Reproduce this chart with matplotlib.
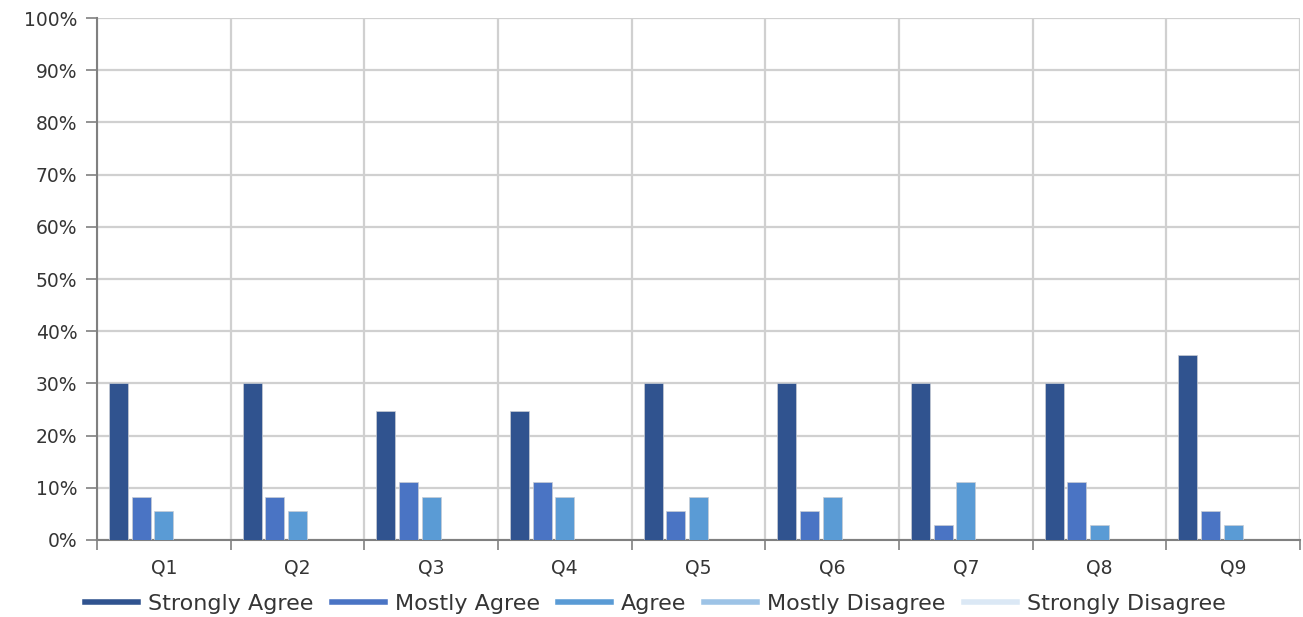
import numpy as np
import matplotlib.pyplot as plt
from matplotlib.lines import Line2D

plt.rcParams['font.family'] = ['DejaVu Sans']

questions = ['Q1', 'Q2', 'Q3', 'Q4', 'Q5', 'Q6', 'Q7', 'Q8', 'Q9']
series_names = ['Strongly Agree', 'Mostly Agree', 'Agree', 'Mostly Disagree', 'Strongly Disagree']
strongly_agree = [30.0, 30.0, 24.7, 24.7, 30.0, 30.0, 30.0, 30.0, 35.5]
mostly_agree = [8.3, 8.3, 11.1, 11.1, 5.6, 5.6, 2.8, 11.1, 5.6]
agree = [5.6, 5.6, 8.3, 8.3, 8.3, 8.3, 11.1, 2.8, 2.8]
mostly_disagree = [0, 0, 0, 0, 0, 0, 0, 0, 0]
strongly_disagree = [0, 0, 0, 0, 0, 0, 0, 0, 0]
colors = ['#30538f', '#4a74c4', '#5a9bd5', '#9dc3e6', '#dbe8f5']

data = [strongly_agree, mostly_agree, agree, mostly_disagree, strongly_disagree]

fig = plt.figure(figsize=(13.03, 6.17), dpi=100)
ax = fig.add_axes([0.0744, 0.1248, 0.9233, 0.846])

x = np.arange(len(questions))
slot = 0.169
bw = 0.142
for i, vals in enumerate(data):
    ax.bar(x + (i - 2) * slot, vals, width=bw, color=colors[i],
           edgecolor='#c8ccd4', linewidth=0.5, zorder=3)

ax.set_xlim(-0.5, len(questions) - 0.5)
ax.set_ylim(0, 100)
ax.set_yticks(np.arange(0, 101, 10))
ax.set_yticklabels([f'{v}%' for v in range(0, 101, 10)])
ax.set_xticks(x)
ax.set_xticklabels(questions)
ax.set_xticks(np.arange(-0.5, len(questions)), minor=True)

ax.grid(axis='y', color='#d0d0d0', linewidth=1.6, zorder=0)
ax.grid(axis='x', which='minor', color='#d0d0d0', linewidth=1.6, zorder=0)
ax.tick_params(axis='x', which='major', length=0, pad=13, labelsize=13.5, labelcolor='#353535')
ax.tick_params(axis='x', which='minor', length=7, width=1.2, color='#808080')
ax.tick_params(axis='y', length=8, width=1.2, color='#808080', labelsize=13.5, labelcolor='#353535', pad=6)

for s in ['top', 'right']:
    ax.spines[s].set_visible(False)
for s in ['left', 'bottom']:
    ax.spines[s].set_color('#808080')
    ax.spines[s].set_linewidth(1.5)

handles = [Line2D([0], [0], color=c, linewidth=4) for c in colors]
fig.legend(handles, series_names, loc='center', bbox_to_anchor=(0.503, 0.021),
           ncol=5, frameon=False, fontsize=16, handlelength=2.4,
           handletextpad=0.45, columnspacing=0.8, labelcolor='#353535')

fig.savefig('out.png', dpi=100)
